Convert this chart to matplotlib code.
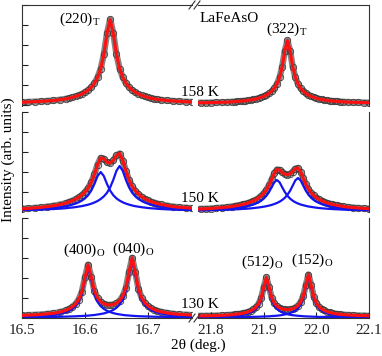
import matplotlib.pyplot as plt
from matplotlib.lines import Line2D
import numpy as np

plt.rcParams['font.family'] = ['Liberation Serif', 'DejaVu Serif']

# 2theta sampling (deg.)
x_left = [16.50, 16.51, 16.52, 16.53, 16.54, 16.55, 16.56, 16.57, 16.575, 16.58, 16.585,
          16.59, 16.595, 16.60, 16.605, 16.61, 16.615, 16.62, 16.625, 16.63, 16.635, 16.64,
          16.645, 16.65, 16.655, 16.66, 16.665, 16.67, 16.675, 16.68, 16.685, 16.69, 16.695,
          16.70, 16.705, 16.71, 16.715, 16.72, 16.73, 16.74, 16.75, 16.76, 16.77]
x_right = [21.77, 21.78, 21.79, 21.80, 21.81, 21.82, 21.83, 21.84, 21.845, 21.85, 21.855,
           21.86, 21.865, 21.87, 21.875, 21.88, 21.885, 21.89, 21.895, 21.90, 21.905, 21.91,
           21.915, 21.92, 21.925, 21.93, 21.935, 21.94, 21.945, 21.95, 21.955, 21.96, 21.965,
           21.97, 21.975, 21.98, 21.985, 21.99, 21.995, 22.00, 22.005, 22.01, 22.015, 22.02,
           22.025, 22.03, 22.035, 22.04, 22.045, 22.05, 22.06, 22.07, 22.08, 22.09, 22.10]

# 158 K, tetragonal (220) and (322)
t158_220 = [1.3, 1.5, 1.8, 2.1, 2.5, 3.0, 3.7, 4.7, 5.3, 6.1, 7.1, 8.1, 9.5, 11.3, 13.4, 16.4,
            20.3, 26.1, 34.9, 49.1, 70.2, 84.0, 70.2, 49.1, 34.9, 26.1, 20.3, 16.4, 13.4, 11.3,
            9.5, 8.1, 7.1, 6.1, 5.3, 4.7, 4.2, 3.7, 3.0, 2.5, 2.1, 1.8, 1.5]
t158_322 = [0.7, 0.7, 0.8, 0.9, 1.1, 1.2, 1.4, 1.7, 1.9, 2.1, 2.3, 2.5, 2.8, 3.2, 3.5, 4.0,
            4.6, 5.3, 6.1, 7.1, 8.4, 10.1, 12.3, 15.2, 19.6, 26.1, 36.9, 52.7, 63.0, 52.7, 36.9,
            26.1, 19.6, 15.2, 12.3, 10.1, 8.4, 7.1, 6.1, 5.3, 4.6, 4.0, 3.5, 3.2, 2.8, 2.5, 2.3,
            2.1, 1.9, 1.7, 1.4, 1.2, 1.1, 0.9, 0.8]
bg158 = 0.5

# 150 K, two components per group plus the total fit
t150_L_a = [1.2, 1.4, 1.7, 2.0, 2.5, 3.0, 3.8, 4.8, 5.5, 6.4, 7.4, 8.7, 10.4, 12.6, 15.8, 20.4,
            27.0, 34.9, 39.0, 34.9, 27.0, 20.4, 15.8, 12.6, 10.4, 8.7, 7.4, 6.4, 5.5, 4.8, 4.3,
            3.8, 3.4, 3.0, 2.7, 2.5, 2.2, 2.0, 1.7, 1.4, 1.2, 1.1, 0.9]
t150_L_b = [1.0, 1.1, 1.3, 1.4, 1.7, 2.0, 2.3, 2.8, 3.2, 3.5, 3.9, 4.4, 4.9, 5.6, 6.3, 7.3,
            8.5, 10.0, 12.0, 14.6, 18.2, 23.6, 31.2, 40.2, 45.0, 40.2, 31.2, 23.6, 18.2, 14.6,
            12.0, 10.0, 8.5, 7.3, 6.3, 5.6, 4.9, 4.4, 3.5, 2.8, 2.3, 2.0, 1.7]
t150_L_fit = [2.3, 2.6, 3.1, 3.6, 4.4, 5.2, 6.4, 7.9, 9.1, 10.3, 11.8, 13.7, 16.0, 19.0, 23.0,
              28.8, 36.8, 46.5, 53.1, 52.3, 48.8, 48.0, 50.6, 55.6, 57.5, 50.5, 39.9, 31.1,
              24.6, 20.2, 17.0, 14.4, 12.4, 10.7, 9.4, 8.4, 7.4, 6.7, 5.4, 4.4, 3.7, 3.3, 2.8]
t150_R_a = [1.0, 1.1, 1.2, 1.4, 1.7, 2.0, 2.3, 2.7, 3.0, 3.3, 3.7, 4.1, 4.5, 5.1, 5.8, 6.5,
            7.5, 8.7, 10.3, 12.4, 15.2, 19.0, 23.8, 28.7, 31.0, 28.7, 23.8, 19.0, 15.2, 12.4,
            10.3, 8.7, 7.5, 6.5, 5.8, 5.1, 4.5, 4.1, 3.7, 3.3, 3.0, 2.7, 2.5, 2.3, 2.1, 2.0,
            1.8, 1.7, 1.6, 1.4, 1.2, 1.1, 1.0, 0.9, 0.8]
t150_R_b = [0.7, 0.8, 0.8, 0.9, 1.1, 1.2, 1.3, 1.5, 1.7, 1.8, 1.9, 2.1, 2.2, 2.4, 2.6, 2.9,
            3.2, 3.5, 3.9, 4.3, 4.8, 5.4, 6.1, 7.0, 8.0, 9.3, 11.0, 13.2, 16.2, 20.2, 25.4,
            30.6, 33.0, 30.6, 25.4, 20.2, 16.2, 13.2, 11.0, 9.3, 8.0, 7.0, 6.1, 5.4, 4.8, 4.3,
            3.9, 3.5, 3.2, 2.9, 2.4, 2.1, 1.8, 1.5, 1.3]
t150_R_fit = [1.9, 2.1, 2.2, 2.5, 3.0, 3.4, 3.9, 4.5, 5.0, 5.5, 6.0, 6.6, 7.2, 8.0, 9.0, 10.1,
              11.4, 13.0, 15.1, 17.8, 21.2, 25.8, 31.6, 37.7, 41.5, 41.1, 38.6, 36.8, 36.4,
              37.2, 39.5, 42.4, 43.0, 39.1, 32.9, 26.7, 21.9, 18.4, 15.6, 13.4, 11.7, 10.4, 9.2,
              8.2, 7.4, 6.7, 6.1, 5.6, 5.1, 4.6, 3.9, 3.4, 3.0, 2.6, 2.3]

# 130 K, orthorhombic (400)/(040) and (512)/(152)
t130_400 = [0.8, 1.0, 1.2, 1.5, 2.0, 2.6, 3.6, 5.4, 6.7, 8.6, 11.3, 15.6, 23.2, 37.4, 50.0,
            37.4, 23.2, 15.6, 11.3, 8.6, 6.7, 5.4, 4.4, 3.6, 3.1, 2.6, 2.2, 2.0, 1.7, 1.5, 1.3,
            1.2, 1.1, 1.0, 0.9, 0.8, 0.7, 0.7, 0.6, 0.5, 0.4, 0.4, 0.3]
t130_040 = [0.3, 0.4, 0.4, 0.5, 0.6, 0.6, 0.7, 0.9, 1.0, 1.1, 1.2, 1.4, 1.5, 1.7, 1.9, 2.2,
            2.5, 3.0, 3.5, 4.1, 5.0, 6.1, 7.6, 9.7, 12.8, 17.7, 26.4, 42.6, 57.0, 42.6, 26.4,
            17.7, 12.8, 9.7, 7.6, 6.1, 5.0, 4.1, 3.0, 2.2, 1.7, 1.4, 1.1]
t130_512 = [0.4, 0.4, 0.5, 0.6, 0.7, 0.9, 1.1, 1.5, 1.7, 2.0, 2.3, 2.7, 3.3, 4.1, 5.1, 6.5,
            8.6, 11.8, 17.6, 28.4, 38.0, 28.4, 17.6, 11.8, 8.6, 6.5, 5.1, 4.1, 3.3, 2.7, 2.3,
            2.0, 1.7, 1.5, 1.3, 1.1, 1.0, 0.9, 0.8, 0.7, 0.6, 0.6, 0.6, 0.5, 0.5, 0.4, 0.4,
            0.4, 0.3, 0.3, 0.3, 0.3, 0.2, 0.2, 0.2]
t130_152 = [0.2, 0.2, 0.2, 0.2, 0.2, 0.3, 0.3, 0.3, 0.4, 0.4, 0.4, 0.5, 0.5, 0.5, 0.6, 0.7,
            0.7, 0.8, 0.9, 1.0, 1.1, 1.2, 1.4, 1.6, 1.8, 2.1, 2.5, 3.0, 3.6, 4.4, 5.5, 7.0,
            9.2, 12.8, 19.0, 30.6, 41.0, 30.6, 19.0, 12.8, 9.2, 7.0, 5.5, 4.4, 3.6, 3.0, 2.5,
            2.1, 1.8, 1.6, 1.2, 1.0, 0.8, 0.7, 0.5]
bg130 = 1.0

temps = ['158 K', '150 K', '130 K']

W, H = 382, 356
fig = plt.figure(figsize=(W / 100, H / 100), dpi=100)


def box(x0, y0, x1, y1):
    # pixel box (top-left origin) -> figure rect
    return [x0 / W, 1 - y1 / H, (x1 - x0) / W, (y1 - y0) / H]


def put(x, y, s, **kw):
    fig.text(x / W, 1 - y / H, s, ha='center', va='center', fontsize=11, **kw)


def draw(ax, x, total, comps):
    # measured points are so dense they merge into a grey band
    ax.plot(x, total, color='#858585', lw=4.6, solid_capstyle='butt', zorder=1)
    ax.plot(x, total, 'o', ms=4.6, mfc='none', mec='#3a3a3a', mew=0.6, zorder=1)
    for c in comps:
        ax.plot(x, c, color='#1414f0', lw=1.6, zorder=2)
    ax.plot(x, total, color='#ff1010', lw=2.2, zorder=3)


rows = [(5, 106, (-2, 99)), (112, 212, (-1, 99)), (218, 318, (-0.5, 99.5))]
left_px, gap_l, gap_r, right_px = 22, 192, 198, 369

t158_L = np.array(t158_220) + bg158
t158_R = np.array(t158_322) + bg158
t130_L = np.array(t130_400) + np.array(t130_040) + bg130
t130_R = np.array(t130_512) + np.array(t130_152) + bg130
panels = [
    ((t158_L, []), (t158_R, [])),
    ((t150_L_fit, [t150_L_a, t150_L_b]), (t150_R_fit, [t150_R_a, t150_R_b])),
    ((t130_L, [t130_400, t130_040]), (t130_R, [t130_512, t130_152])),
]

for r, (y0, y1, ylim) in enumerate(rows):
    axl = fig.add_axes(box(left_px, y0, gap_l, y1))
    axr = fig.add_axes(box(gap_r, y0, right_px, y1))
    (tl, cl), (tr, cr) = panels[r]
    draw(axl, x_left, tl, cl)
    draw(axr, x_right, tr, cr)
    axl.set_xlim(16.5, 16.77)
    axr.set_xlim(21.775, 22.1)
    for ax in (axl, axr):
        ax.set_ylim(*ylim)
        for s in ax.spines.values():
            s.set_linewidth(0.8)
            s.set_color('#333333')
        ax.spines['top'].set_visible(r == 0)
        ax.spines['bottom'].set_visible(r == 2)
        ax.tick_params(direction='in', labelsize=11, colors='#222222')
    axl.spines['right'].set_visible(False)
    axr.spines['left'].set_visible(False)
    axl.set_yticks(np.arange(ylim[1], ylim[0], -20))
    axl.tick_params(axis='y', length=4, labelleft=False)
    axr.set_yticks([])
    if r == 2:
        axl.set_xticks([16.5, 16.6, 16.7])
        axr.set_xticks([21.8, 21.9, 22.0, 22.1])
        for ax in (axl, axr):
            ax.tick_params(axis='x', length=4, pad=4)
    else:
        axl.set_xticks([])
        axr.set_xticks([])

# axis break marks
for yb in (5, 318):
    for dx in (-3, 2):
        xa = 195 + dx
        fig.add_artist(Line2D([(xa - 3) / W, (xa + 3) / W], [1 - (yb + 4) / H, 1 - (yb - 4) / H],
                              color='#333333', lw=0.8))

# labels
put(80, 19, r'(220)$_\mathregular{T}$')
put(287, 29, r'(322)$_\mathregular{T}$')
put(229, 19, 'LaFeAsO')
put(84, 250, r'(400)$_\mathregular{O}$')
put(133, 249, r'(040)$_\mathregular{O}$')
put(262, 262, r'(512)$_\mathregular{O}$')
put(312, 260, r'(152)$_\mathregular{O}$')
for t, yt in zip(temps, (93, 198, 305)):
    put(200, yt, t)

put(8, 160, 'Intensity (arb. units)', rotation=90)
put(198, 345, '2θ (deg.)')

fig.savefig('out.png', dpi=100)
